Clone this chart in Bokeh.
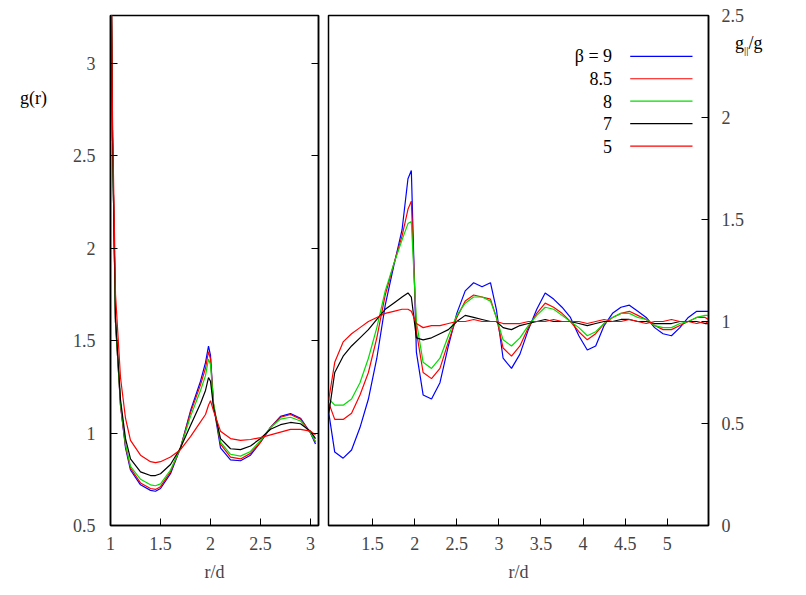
from bokeh.plotting import figure
from bokeh.layouts import row
from bokeh.models import Range1d, LinearAxis, FixedTicker, Div
from bokeh.core.properties import value
from bokeh.embed import file_html
from bokeh.resources import INLINE

# left panel: g(r)
r_left = [1.0, 1.02, 1.05, 1.1, 1.15, 1.2, 1.3, 1.4, 1.45, 1.5, 1.6, 1.7, 1.8, 1.9, 1.95,
          1.98, 2.0, 2.03, 2.1, 2.2, 2.3, 2.4, 2.5, 2.6, 2.7, 2.8, 2.9, 3.0, 3.05]
g_b9 = [4.0, 2.6, 1.6, 1.15, 0.92, 0.8, 0.72, 0.69, 0.685, 0.70, 0.78, 0.92, 1.12, 1.28, 1.38,
        1.47, 1.42, 1.15, 0.92, 0.855, 0.85, 0.88, 0.95, 1.03, 1.09, 1.105, 1.08, 1.0, 0.94]
g_b85 = [4.0, 2.6, 1.6, 1.15, 0.93, 0.81, 0.73, 0.70, 0.695, 0.71, 0.79, 0.92, 1.11, 1.26, 1.35,
         1.44, 1.40, 1.16, 0.94, 0.87, 0.86, 0.89, 0.95, 1.03, 1.085, 1.10, 1.075, 1.0, 0.95]
g_b8 = [4.0, 2.6, 1.6, 1.16, 0.94, 0.82, 0.75, 0.72, 0.715, 0.725, 0.80, 0.92, 1.09, 1.23, 1.31,
        1.40, 1.37, 1.16, 0.95, 0.885, 0.875, 0.90, 0.96, 1.03, 1.075, 1.085, 1.065, 1.0, 0.955]
g_b7 = [4.0, 2.6, 1.62, 1.18, 0.97, 0.86, 0.79, 0.77, 0.77, 0.78, 0.83, 0.92, 1.04, 1.16, 1.23,
        1.30, 1.28, 1.14, 0.97, 0.915, 0.91, 0.93, 0.97, 1.02, 1.045, 1.057, 1.05, 1.01, 0.97]
g_b5 = [4.0, 2.7, 1.75, 1.3, 1.08, 0.96, 0.88, 0.845, 0.84, 0.845, 0.87, 0.91, 0.98, 1.06, 1.10,
        1.15, 1.175, 1.12, 1.01, 0.97, 0.96, 0.965, 0.975, 0.99, 1.005, 1.02, 1.02, 1.01, 0.99]

# right panel: g_par / g
r_right = [0.98, 1.05, 1.15, 1.25, 1.35, 1.45, 1.55, 1.65, 1.75, 1.85, 1.92, 1.96, 2.02, 2.1,
           2.2, 2.3, 2.4, 2.5, 2.6, 2.7, 2.8, 2.9, 2.97, 3.05, 3.15, 3.25, 3.35, 3.45, 3.55,
           3.65, 3.75, 3.85, 3.95, 4.05, 4.15, 4.25, 4.35, 4.45, 4.55, 4.65, 4.75, 4.85, 4.95,
           5.05, 5.15, 5.25, 5.35, 5.45, 5.49]
p_b9 = [0.55, 0.36, 0.33, 0.37, 0.48, 0.62, 0.82, 1.08, 1.27, 1.45, 1.70, 1.74, 0.85, 0.64,
        0.62, 0.70, 0.88, 1.04, 1.15, 1.19, 1.17, 1.19, 1.06, 0.82, 0.77, 0.84, 0.96, 1.06, 1.14,
        1.11, 1.07, 1.02, 0.93, 0.86, 0.88, 0.98, 1.04, 1.07, 1.08, 1.05, 1.02, 0.97, 0.94,
        0.93, 0.97, 1.02, 1.05, 1.05, 1.05]
p_b85 = [0.60, 0.52, 0.52, 0.55, 0.64, 0.75, 0.92, 1.13, 1.28, 1.42, 1.55, 1.59, 0.95, 0.75,
         0.72, 0.77, 0.90, 1.02, 1.10, 1.13, 1.12, 1.11, 1.02, 0.87, 0.83, 0.88, 0.97, 1.04, 1.09,
         1.07, 1.04, 1.00, 0.95, 0.91, 0.94, 0.99, 1.02, 1.04, 1.05, 1.03, 1.01, 0.98, 0.96,
         0.96, 0.98, 1.00, 1.02, 1.02, 1.01]
p_b8 = [0.62, 0.59, 0.59, 0.62, 0.70, 0.82, 0.97, 1.15, 1.28, 1.40, 1.48, 1.49, 1.00, 0.80,
        0.77, 0.82, 0.93, 1.03, 1.09, 1.12, 1.12, 1.10, 1.02, 0.91, 0.88, 0.92, 0.98, 1.03, 1.07,
        1.06, 1.03, 1.00, 0.97, 0.93, 0.95, 0.99, 1.02, 1.04, 1.04, 1.02, 1.01, 0.98, 0.97,
        0.97, 0.99, 1.00, 1.02, 1.03, 1.03]
p_b7 = [0.55, 0.75, 0.83, 0.88, 0.92, 0.96, 1.01, 1.06, 1.09, 1.12, 1.14, 1.12, 0.92, 0.91,
        0.92, 0.94, 0.96, 1.00, 1.03, 1.02, 1.01, 1.00, 1.00, 0.97, 0.96, 0.98, 0.99, 1.00, 1.01,
        1.00, 1.00, 1.00, 0.99, 0.98, 0.99, 1.00, 1.00, 1.01, 1.01, 1.00, 1.00, 0.99, 0.99,
        0.99, 1.00, 1.00, 1.00, 0.99, 0.99]
p_b5 = [0.62, 0.80, 0.90, 0.94, 0.97, 1.00, 1.02, 1.04, 1.05, 1.06, 1.06, 1.05, 0.99, 0.97,
        0.98, 0.98, 0.99, 1.00, 1.00, 1.01, 1.00, 1.00, 1.00, 0.99, 0.99, 0.99, 1.00, 1.00, 1.00,
        1.01, 1.00, 1.00, 1.00, 0.99, 1.00, 1.01, 1.00, 1.00, 1.01, 1.00, 0.99, 1.00, 1.00,
        1.01, 1.00, 1.00, 0.99, 1.00, 0.99]

legend_labels = ["β = 9", "8.5", "8", "7", "5"]
colors = ["#0000ff", "#ff0000", "#00dd00", "#000000", "#ff0000"]
left_series = [g_b9, g_b85, g_b8, g_b7, g_b5]
right_series = [p_b9, p_b85, p_b8, p_b7, p_b5]

FONT = "Liberation Serif"
H = 587


def style_axis(ax, ticks):
    ax.ticker = FixedTicker(ticks=ticks)
    ax.major_tick_in = 7
    ax.major_tick_out = 0
    ax.minor_tick_line_color = None
    ax.axis_line_width = 1.5
    ax.major_label_standoff = 11
    ax.major_label_text_font = FONT
    ax.major_label_text_font_size = "18px"
    ax.axis_label_standoff = 9
    ax.axis_label_text_font = FONT
    ax.axis_label_text_font_size = "18px"
    ax.axis_label_text_font_style = "normal"


left = figure(width=323, height=H, x_range=Range1d(1.0, 3.08), y_range=Range1d(0.5, 3.257),
              output_backend="svg", toolbar_location=None, x_axis_location=None,
              y_axis_location=None, min_border_left=110, min_border_right=5,
              min_border_top=15, min_border_bottom=62)
left.outline_line_color = "black"
left.outline_line_width = 1.5
left.grid.visible = False
for ys, c in zip(left_series, colors):
    left.line(r_left, ys, color=c, line_width=1.2)
xa = LinearAxis(axis_label="r/d")
style_axis(xa, [1, 1.5, 2, 2.5, 3])
left.add_layout(xa, "below")
ya = LinearAxis()
style_axis(ya, [0.5, 1, 1.5, 2, 2.5, 3])
ya.major_label_standoff = 15
left.add_layout(ya, "left")
yr = LinearAxis()
style_axis(yr, [0.5, 1, 1.5, 2, 2.5, 3])
yr.major_label_standoff = 0
yr.major_label_text_alpha = 0
yr.major_label_text_font_size = "1px"
left.add_layout(yr, "right")

right = figure(width=475, height=H, x_range=Range1d(0.976, 5.49), y_range=Range1d(0, 2.5),
               output_backend="svg", toolbar_location=None, x_axis_location=None,
               y_axis_location=None, min_border_left=5, min_border_right=90,
               min_border_top=15, min_border_bottom=62)
right.outline_line_color = "black"
right.outline_line_width = 1.5
right.grid.visible = False
for ys, c in zip(right_series, colors):
    right.line(r_right, ys, color=c, line_width=1.2)
xb = LinearAxis(axis_label="r/d")
style_axis(xb, [1.5, 2, 2.5, 3, 3.5, 4, 4.5, 5])
right.add_layout(xb, "below")
yb = LinearAxis()
style_axis(yb, [0, 0.5, 1, 1.5, 2, 2.5])
yb.major_label_standoff = 13
right.add_layout(yb, "right")

# legend drawn to the left of its sample lines
leg_y = [2.3 - 0.11 * i for i in range(len(legend_labels))]
right.text([4.345] * len(leg_y), leg_y, text=legend_labels, text_font=value(FONT),
           text_font_size="18px", text_align="right", text_baseline="middle")
right.segment([4.56] * len(leg_y), leg_y, [5.30] * len(leg_y), leg_y, color=colors, line_width=1.2)

# y axis titles sit outside the frames, so they are placed as absolute divs
lab_style = {"position": "absolute", "font-family": FONT, "font-size": "18px", "color": "black"}
g_lab = Div(text="g(r)", styles=dict(lab_style, left="15px", top="81px"))
gp_lab = Div(text="g<sub style='font-size:11px'>||</sub>/g",
             styles=dict(lab_style, left="730px", top="26px"))

p = row(left, right, g_lab, gp_lab)
open("out.html", "w").write(file_html(p, INLINE))
